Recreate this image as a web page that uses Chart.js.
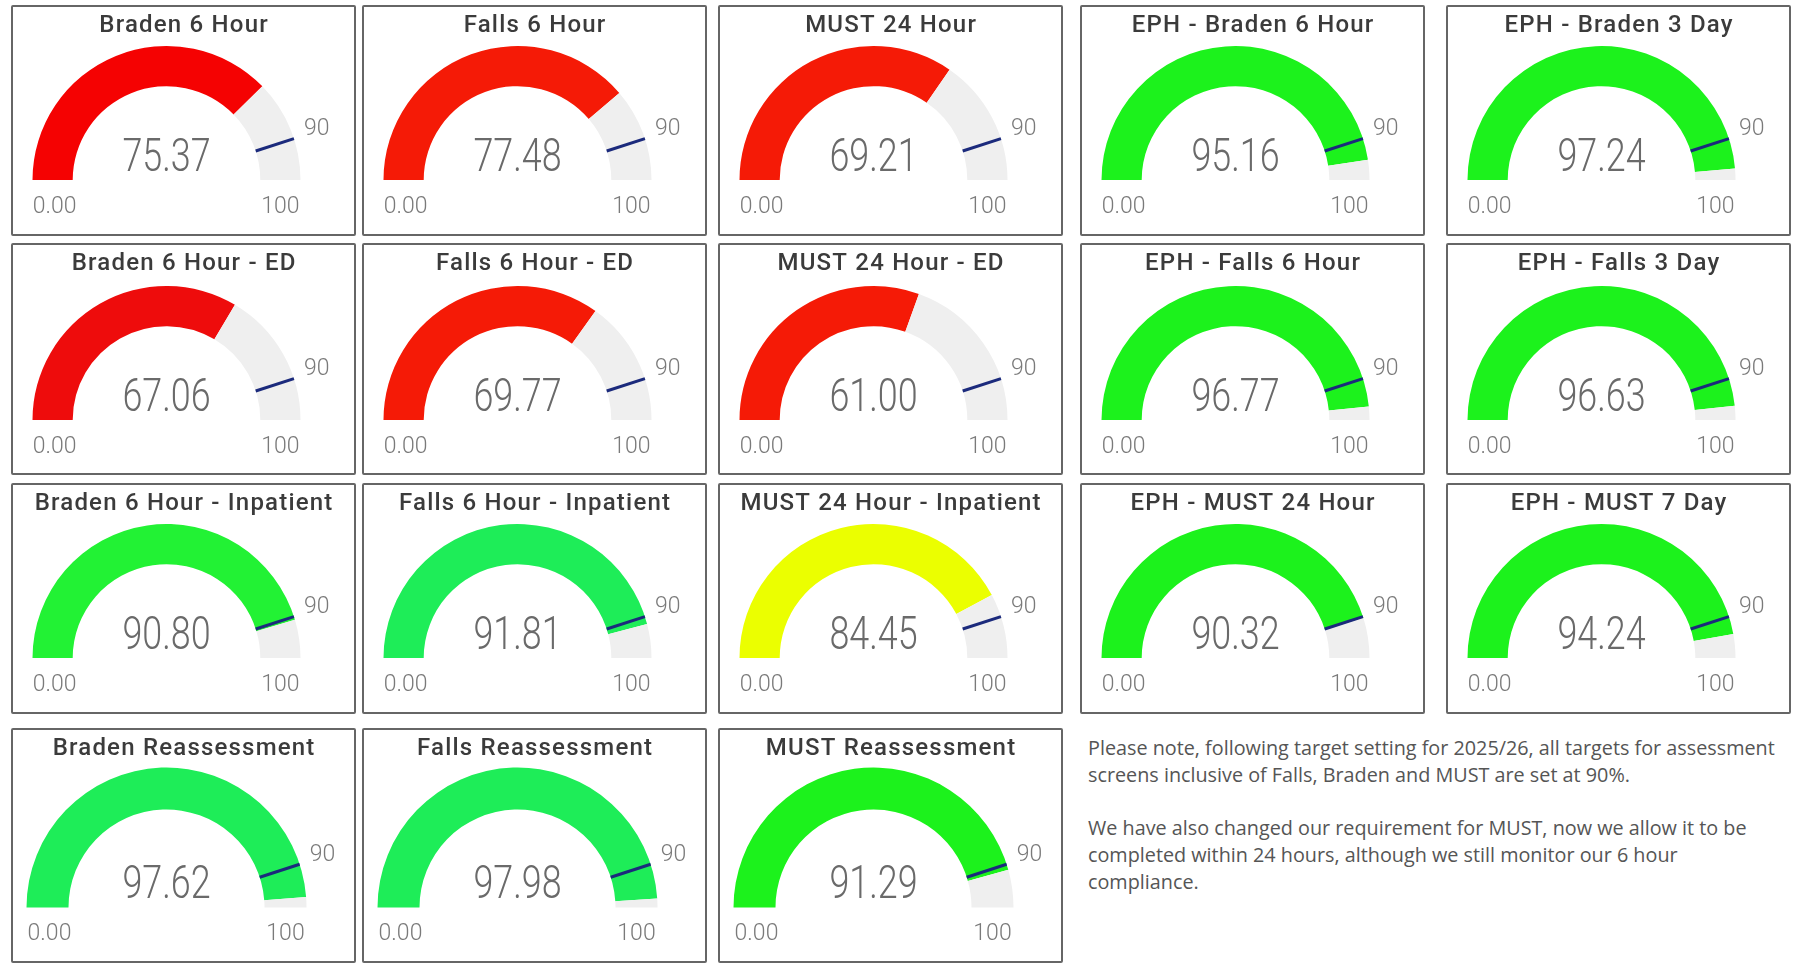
<!DOCTYPE html>
<html>
<head>
<meta charset="utf-8">
<title>Assessment compliance gauges</title>
<script src="https://cdn.jsdelivr.net/npm/chart.js@4.4.1/dist/chart.umd.min.js"></script>
<style>
  html, body { margin: 0; padding: 0; background: #fff; }
  body { width: 1794px; height: 966px; position: relative; overflow: hidden; }
  .panel { position: absolute; border: 2px solid #666; border-radius: 2px; box-sizing: border-box; background: #fff; }
  .panel canvas { display: block; }
  #note { position: absolute; left: 1088px; top: 735px; font-family: "Open Sans", sans-serif; font-size: 19.8px;
          line-height: 26.7px; color: #555; white-space: nowrap; }
</style>
</head>
<body>
<div id="note">Please note, following target setting for 2025/26, all targets for assessment<br>screens inclusive of Falls, Braden and MUST are set at 90%.<br><br>We have also changed our requirement for MUST, now we allow it to be<br>completed within 24 hours, although we still monitor our 6 hour<br>compliance.</div>
<script>
// gauge data (row by row)
var titles = [
  'Braden 6 Hour', 'Falls 6 Hour', 'MUST 24 Hour', 'EPH - Braden 6 Hour', 'EPH - Braden 3 Day',
  'Braden 6 Hour - ED', 'Falls 6 Hour - ED', 'MUST 24 Hour - ED', 'EPH - Falls 6 Hour', 'EPH - Falls 3 Day',
  'Braden 6 Hour - Inpatient', 'Falls 6 Hour - Inpatient', 'MUST 24 Hour - Inpatient', 'EPH - MUST 24 Hour', 'EPH - MUST 7 Day',
  'Braden Reassessment', 'Falls Reassessment', 'MUST Reassessment'
];
var values = [
  75.37, 77.48, 69.21, 95.16, 97.24,
  67.06, 69.77, 61.00, 96.77, 96.63,
  90.80, 91.81, 84.45, 90.32, 94.24,
  97.62, 97.98, 91.29
];
var targets = [90, 90, 90, 90, 90, 90, 90, 90, 90, 90, 90, 90, 90, 90, 90, 90, 90, 90];
var minLabel = '0.00';
var maxValue = 100;
var fillColors = [
  '#F50202', '#F51A06', '#F51A06', '#1CF21C', '#1CF21C',
  '#EE0C0C', '#F51A06', '#F51A06', '#1CF21C', '#1CF21C',
  '#22F234', '#1EED58', '#EBFF00', '#1CF21C', '#1CF21C',
  '#1EED58', '#1EED58', '#1CF21C'
];

// panel grid
var colLeft = [11, 362, 718, 1080, 1446];
var rowTop = [5, 243, 483, 728];
var rowHeight = [231, 232, 231, 235];
var panelWidth = 345;

var gaugeText = {
  id: 'gaugeText',
  afterDraw: function (chart) {
    var o = chart.options.plugins.gaugeText;
    var arc = chart.getDatasetMeta(0).data[0];
    var cx = arc.x, cy = arc.y, R = arc.outerRadius, r = arc.innerRadius;
    var ctx = chart.ctx;
    ctx.save();
    // target marker
    var a = Math.PI * (1 - o.target / o.max);
    ctx.strokeStyle = '#1B2A7C';
    ctx.lineWidth = 3;
    ctx.beginPath();
    ctx.moveTo(cx + Math.cos(a) * r, cy - Math.sin(a) * r);
    ctx.lineTo(cx + Math.cos(a) * R, cy - Math.sin(a) * R);
    ctx.stroke();

    ctx.textAlign = 'center';
    ctx.textBaseline = 'middle';
    // title
    ctx.fillStyle = '#3b3b3b';
    ctx.font = '500 24px Roboto';
    ctx.letterSpacing = '1.2px';
    ctx.fillText(o.title, chart.width / 2 + 0.6, 19);
    ctx.letterSpacing = '0px';
    // value
    ctx.fillStyle = '#6a6a6a';
    ctx.font = '300 46px Roboto';
    ctx.save();
    ctx.translate(cx, cy - 21);
    ctx.scale(0.78, 1);
    ctx.fillText(o.value.toFixed(2), 0, 0);
    ctx.restore();
    // min / max / target labels
    ctx.fillStyle = '#7a7a7a';
    ctx.font = '300 23px Roboto';
    var band = (R + r) / 2;
    ctx.fillText(o.minLabel, cx - band + 2, cy + 27);
    ctx.fillText(String(o.max), cx + band, cy + 27);
    ctx.fillText(String(o.target), cx + Math.cos(a) * (R + 24), cy - Math.sin(a) * (R + 24) - 2);
    ctx.restore();
  }
};

for (var i = 0; i < titles.length; i++) {
  var row = Math.floor(i / 5), col = i % 5;
  var h = rowHeight[row];
  var div = document.createElement('div');
  div.className = 'panel';
  div.style.left = colLeft[col] + 'px';
  div.style.top = rowTop[row] + 'px';
  div.style.width = panelWidth + 'px';
  div.style.height = h + 'px';
  var cw = panelWidth - 4, ch = h - 4;
  var cnv = document.createElement('canvas');
  cnv.width = cw; cnv.height = ch;
  cnv.style.width = cw + 'px'; cnv.style.height = ch + 'px';
  div.appendChild(cnv);
  document.body.appendChild(div);

  // gauge geometry inside the panel
  var R = row == 3 ? 140 : 134;
  var cx = 153.5;
  var base = row == 3 ? 177.5 : (row == 1 ? 175 : 173);

  new Chart(cnv, {
    type: 'doughnut',
    data: {
      labels: ['Value', 'Remaining'],
      datasets: [{
        data: [values[i], maxValue - values[i]],
        backgroundColor: [fillColors[i], '#EFEFEF'],
        borderWidth: 0
      }]
    },
    options: {
      responsive: false,
      animation: false,
      rotation: -90,
      circumference: 180,
      cutout: '70%',
      layout: {
        padding: { left: cx - R, right: cw - cx - R, top: base - R, bottom: ch - base }
      },
      plugins: {
        legend: { display: false },
        tooltip: { enabled: false },
        gaugeText: { title: titles[i], value: values[i], target: targets[i], max: maxValue, minLabel: minLabel }
      }
    },
    plugins: [gaugeText]
  });
}
</script>
</body>
</html>
